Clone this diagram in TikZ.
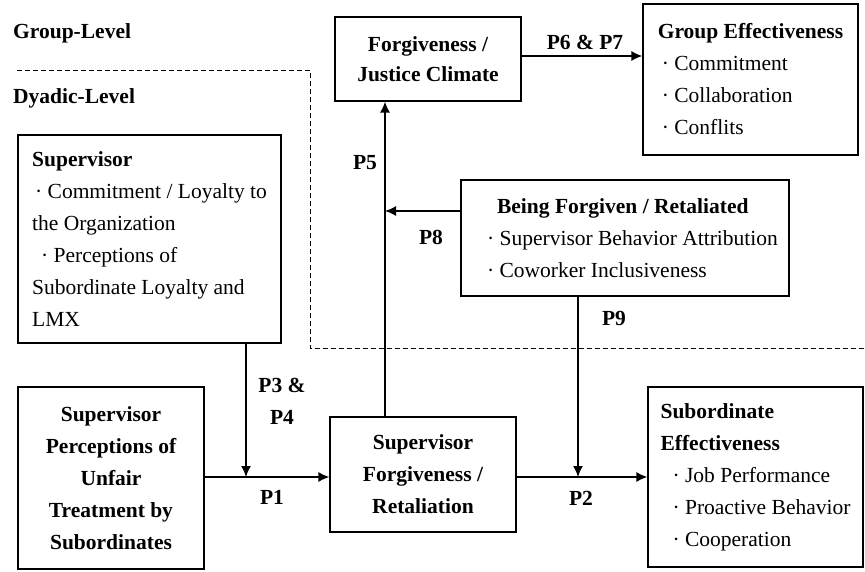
\documentclass[tikz,border=0pt]{standalone}
\usepackage{fontspec}
\setmainfont{Liberation Serif}
\usetikzlibrary{arrows.meta}
\begin{document}
\begin{tikzpicture}[x=1pt,y=-1pt,
  font=\fontsize{21.5}{32}\selectfont,
  box/.style={draw,line width=1.2pt,inner sep=0pt},
  lbl/.style={font=\fontsize{21.5}{32}\selectfont\bfseries,inner sep=0pt},
  arr/.style={line width=1.4pt,-{Latex[length=11pt,width=10pt]}},
  levelline/.style={line width=0.9pt,dash pattern=on 5pt off 3pt}]
\useasboundingbox (0,0) rectangle (865,571);
\draw[levelline] (17,70) -- (310,70) -- (310,348) -- (865,348);

\node[lbl,anchor=west] (gl) at (13,33) {Group-Level};
\node[lbl,anchor=west] (dl) at (13,98) {Dyadic-Level};

\node[box,minimum width=263,minimum height=208,align=left] (sup) at (149.5,239)
 {\textbf{Supervisor}\\
  \hspace*{3pt}· Commitment / Loyalty to\\
  the Organization\\
  \hspace*{9pt}· Perceptions of\\
  Subordinate Loyalty and\\
  LMX};

\node[box,minimum width=186,minimum height=182,align=center,font=\fontsize{21.5}{32}\selectfont\bfseries] (spu) at (111,478)
 {Supervisor\\Perceptions of\\Unfair\\Treatment by\\Subordinates};

\node[box,minimum width=186,minimum height=115,align=center,font=\fontsize{21.5}{32}\selectfont\bfseries] (sfr) at (423,474.5)
 {Supervisor\\Forgiveness /\\Retaliation};

\node[box,minimum width=186,minimum height=84,align=center,font=\fontsize{21.5}{30}\selectfont\bfseries] (fjc) at (428,59)
 {Forgiveness /\\Justice Climate};

\node[box,minimum width=215,minimum height=151,align=left] (ge) at (750.5,79.5)
 {\textbf{Group Effectiveness}\\
  \hspace*{4pt}· Commitment\\
  \hspace*{4pt}· Collaboration\\
  \hspace*{4pt}· Conflits};

\node[box,minimum width=328,minimum height=116,align=left] (bfr) at (625,238)
 {\hspace*{25pt}\textbf{Being Forgiven / Retaliated}\\
  \hspace*{15pt}· Supervisor Behavior Attribution\\
  \hspace*{15pt}· Coworker Inclusiveness};

\node[box,minimum width=215,minimum height=180,align=left] (se) at (755.5,477)
 {\textbf{Subordinate}\\
  \textbf{Effectiveness}\\
  \hspace*{12pt}· Job Performance\\
  \hspace*{12pt}· Proactive Behavior\\
  \hspace*{12pt}· Cooperation};

\coordinate (m1) at (246,477);
\coordinate (m2) at (578,477);
\coordinate (v) at (385,211);

\draw[arr] (spu.east |- m1) -- (sfr.west |- m1);
\draw[arr] (sup.south -| m1) -- (m1);
\draw[arr] (sfr.east |- m2) -- (se.west |- m2);
\draw[arr] (bfr.south -| m2) -- (m2);
\draw[arr] (sfr.north -| v) -- (fjc.south -| v);
\draw[arr] (bfr.west |- v) -- (v);
\draw[arr] ([yshift=3pt]fjc.east) -- ([yshift=3pt]fjc.east -| ge.west);

\node[lbl] (p67) at (585,42) {P6 \& P7};
\node[lbl] (p5) at (365,163) {P5};
\node[lbl] (p8) at (431,237) {P8};
\node[lbl] (p9) at (614,318) {P9};
\node[lbl,align=center] (p34) at (282,401) {P3 \&\\P4};
\node[lbl] (p1) at (272,497) {P1};
\node[lbl] (p2) at (581,498) {P2};
\end{tikzpicture}
\end{document}
